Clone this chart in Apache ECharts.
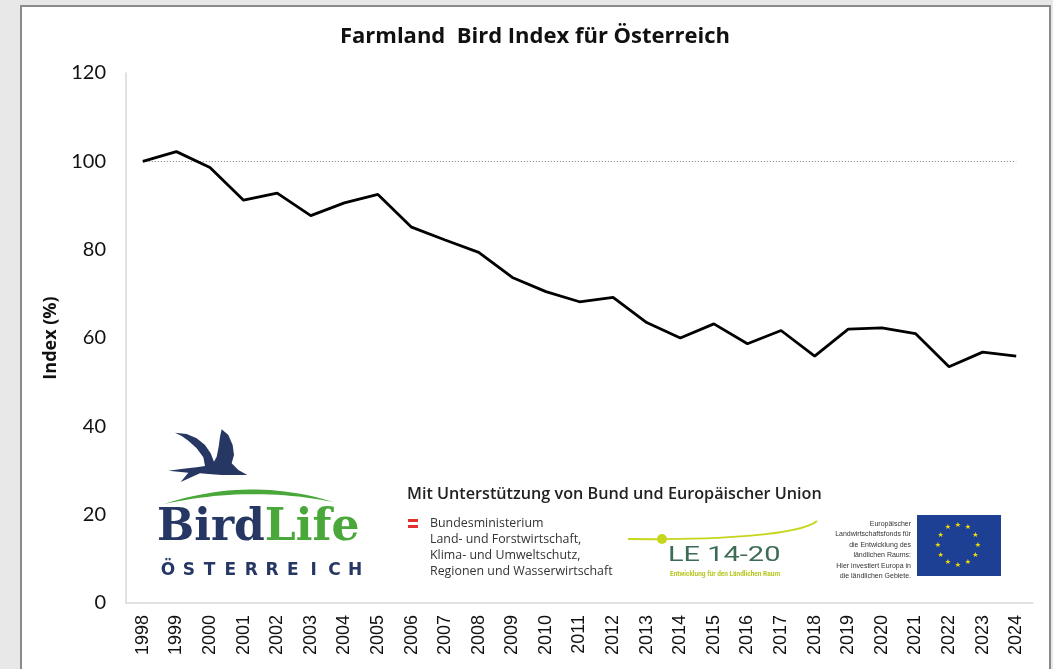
<!DOCTYPE html>
<html>
<head>
<meta charset="utf-8">
<script src="https://cdn.jsdelivr.net/npm/echarts@6/dist/echarts.min.js"></script>
<style>html,body{margin:0;padding:0;background:#e8e8e8;}#c{width:1053px;height:669px;}</style>
</head>
<body>
<div id="c"></div>
<script>
const years = ['1998','1999','2000','2001','2002','2003','2004','2005','2006','2007','2008','2009','2010','2011','2012','2013','2014','2015','2016','2017','2018','2019','2020','2021','2022','2023','2024'];
const indexValues = [100,102.2,98.6,91.2,92.8,87.7,90.6,92.5,85.1,82.2,79.4,73.7,70.5,68.2,69.2,63.5,60.0,63.2,58.7,61.7,55.9,62.0,62.3,61.0,53.5,56.8,55.9];
const referenceLevel = 100;
const titleText = 'Farmland  Bird Index für Österreich';
const yAxisName = 'Index (%)';
const supportText = 'Mit Unterstützung von Bund und Europäischer Union';
const ministryLines = ['Bundesministerium','Land- und Forstwirtschaft,','Klima- und Umweltschutz,','Regionen und Wasserwirtschaft'];
const euLines = ['Europäischer','Landwirtschaftsfonds für','die Entwicklung des','ländlichen Raums:','Hier investiert Europa in','die ländlichen Gebiete.'];
const countryLetters = 'ÖSTERREICH'.split('');

const navy = '#263763', green = '#4aa83a';
const birdPts = [[75,38],[110,42],[140,55],[165,75],[182,100],[192,125],[200,110],[206,80],[210,50],[215,28],[235,45],[248,75],[252,105],[245,130],[265,150],[292,165],[245,165],[215,165],[185,163],[150,160],[92,186],[115,158],[55,152],[100,146],[140,142],[165,138],[160,112],[140,85],[115,62],[95,48]];
function quad(p0,c,p1,n){const out=[];for(let i=0;i<=n;i++){const t=i/n;out.push([(1-t)*(1-t)*p0[0]+2*(1-t)*t*c[0]+t*t*p1[0],(1-t)*(1-t)*p0[1]+2*(1-t)*t*c[1]+t*t*p1[1]]);}return out;}
const swoosh = quad([72,252],[330,168],[580,246],24).concat(quad([580,246],[330,196],[72,252],24));

const graphics = [
  {type:'rect', z:-10, shape:{x:21,y:6,width:1029,height:700}, style:{fill:'#fff', stroke:'#8a8a8a', lineWidth:2}},
  {type:'polygon', z:10, x:150, y:420, scaleX:1/3, scaleY:1/3, shape:{points:birdPts}, style:{fill:navy}},
  {type:'polygon', z:10, x:140, y:420, scaleX:1/3, scaleY:1/3, shape:{points:swoosh}, style:{fill:green}},
  {type:'text', z:10, x:157, y:529, style:{text:'{a|Bird}{b|Life}', verticalAlign:'middle', rich:{
     a:{fill:navy, fontFamily:'DejaVu Serif', fontWeight:'bold', fontSize:44},
     b:{fill:green, fontFamily:'DejaVu Serif', fontWeight:'bold', fontSize:44}}}},
  {type:'text', z:10, x:407, y:494, style:{text:supportText, fill:'#222', fontFamily:'Open Sans', fontWeight:600, fontSize:16.2, verticalAlign:'middle'}},
  {type:'rect', z:10, shape:{x:408,y:519,width:10,height:3}, style:{fill:'#e2312a'}},
  {type:'rect', z:10, shape:{x:408,y:525,width:10,height:3}, style:{fill:'#e2312a'}},
  {type:'bezierCurve', z:10, shape:{x1:628,y1:539,cpx1:720,cpy1:540,cpx2:800,cpy2:535,x2:817,y2:521}, style:{stroke:'#c5d61c', lineWidth:2, fill:null}},
  {type:'circle', z:11, shape:{cx:662,cy:539,r:5}, style:{fill:'#c5d61c'}},
  {type:'text', z:10, x:668, y:556, scaleX:1.38, style:{text:'LE 14-20', fill:'#3d6b55', fontFamily:'Roboto', fontSize:21, verticalAlign:'middle'}},
  {type:'text', z:10, x:670, y:574, style:{text:'Entwicklung für den Ländlichen Raum', fill:'#b7c61f', fontFamily:'Roboto', fontWeight:'bold', fontSize:6.5, verticalAlign:'middle'}},
  {type:'rect', z:10, shape:{x:917,y:515,width:84,height:61}, style:{fill:'#1d3f94'}}
];
ministryLines.forEach((t,i)=>graphics.push({type:'text', z:10, x:430, y:523+i*16.3, style:{text:t, fill:'#333', fontFamily:'Open Sans', fontSize:12.4, verticalAlign:'middle'}}));
euLines.forEach((t,i)=>graphics.push({type:'text', z:10, x:911, y:524+i*10.4, style:{text:t, fill:'#333', fontFamily:'Liberation Sans Narrow, Liberation Sans', fontSize:7, align:'right', verticalAlign:'middle'}}));
countryLetters.forEach((ch,i)=>graphics.push({type:'text', z:10, x:168+i*20.8, y:571, style:{text:ch, fill:navy, fontFamily:'DejaVu Sans', fontWeight:'bold', fontSize:17, align:'center', verticalAlign:'middle'}}));
for (let k=0;k<12;k++){
  const a = k*Math.PI/6;
  graphics.push({type:'text', z:11, x:958+20*Math.sin(a), y:545-20*Math.cos(a), style:{text:'★', fill:'#f5e000', fontSize:7, fontFamily:'DejaVu Sans', align:'center', verticalAlign:'middle'}});
}

const chart = echarts.init(document.getElementById('c'));
chart.setOption({
  backgroundColor:'#e8e8e8',
  animation:false,
  title:{text:titleText, left:530, top:21, textAlign:'center', textStyle:{fontFamily:'Open Sans', fontWeight:'bold', fontSize:22, color:'#111'}},
  grid:{left:126, right:20, top:73, bottom:66},
  xAxis:{type:'category', data:years, boundaryGap:true,
    axisLine:{lineStyle:{color:'#d9d9d9', width:1.5}}, axisTick:{show:false},
    axisLabel:{rotate:90, fontSize:18, fontFamily:'Liberation Sans', color:'#111', margin:12, interval:0}},
  yAxis:{type:'value', min:0, max:120, interval:20, name:yAxisName, nameLocation:'middle', nameGap:63,
    nameTextStyle:{fontFamily:'Open Sans', fontWeight:'bold', fontSize:18, color:'#111'},
    axisLine:{show:true, lineStyle:{color:'#d9d9d9', width:1.5}}, axisTick:{show:false}, splitLine:{show:false},
    axisLabel:{fontFamily:'Lato', fontSize:20, color:'#111', margin:20}},
  series:[{type:'line', data:indexValues, symbol:'none', lineStyle:{color:'#000', width:2.8}, z:5,
    markLine:{silent:true, symbol:'none', label:{show:false},
      lineStyle:{color:'#777', type:[1,2], width:1},
      data:[[{coord:[years[0],referenceLevel]},{coord:[years[years.length-1],referenceLevel]}]]}}],
  graphic:graphics
});
</script>
</body>
</html>
